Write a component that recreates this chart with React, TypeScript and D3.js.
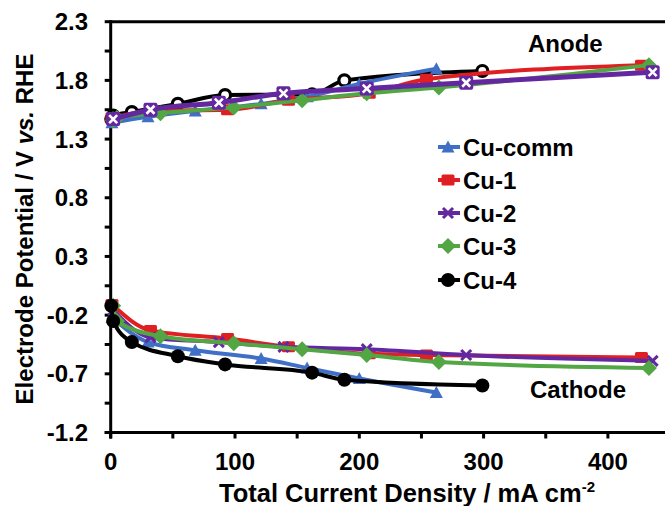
import React from "react";
import * as d3 from "d3";

// ---- data ----
const X_COMM = [1, 30, 68, 121, 158, 200, 262];
const CATH_COMM = [-0.22, -0.43, -0.5, -0.57, -0.65, -0.74, -0.86];
const AN_COMM = [1.44, 1.49, 1.54, 1.6, 1.66, 1.77, 1.9];

const X_CU1 = [1, 32, 94, 143, 208, 254, 427];
const CATH_CU1 = [-0.11, -0.33, -0.4, -0.47, -0.53, -0.54, -0.56];
const AN_CU1 = [1.48, 1.54, 1.55, 1.63, 1.69, 1.81, 1.93];

const X_CU2 = [2, 32, 87, 139, 206, 286, 436];
const CATH_CU2 = [-0.16, -0.39, -0.43, -0.47, -0.49, -0.54, -0.59];
const AN_CU2 = [1.47, 1.55, 1.61, 1.69, 1.73, 1.78, 1.87];

const X_CU3 = [2, 5, 40, 99, 154, 206, 264, 433];
const CATH_CU3 = [-0.12, -0.25, -0.38, -0.44, -0.49, -0.54, -0.6, -0.65];
const AN_CU3 = [1.46, 1.48, 1.52, 1.57, 1.63, 1.69, 1.74, 1.93];

const X_CU4 = [0.5, 2, 17, 54, 92, 162, 188, 299];
const CATH_CU4 = [-0.12, -0.25, -0.43, -0.55, -0.62, -0.69, -0.75, -0.8];
const AN_CU4 = [1.47, 1.5, 1.53, 1.6, 1.675, 1.68, 1.8, 1.88];

const SERIES_NAMES = ["Cu-comm", "Cu-1", "Cu-2", "Cu-3", "Cu-4"];
const X_TICKS = [0, 100, 200, 300, 400];
const X_MINOR = [50, 150, 250, 350, 450];
const Y_TICKS = [2.3, 1.8, 1.3, 0.8, 0.3, -0.2, -0.7, -1.2];
const Y_MINOR = [2.05, 1.55, 1.05, 0.55, 0.05, -0.45, -0.95];

const COLORS: Record<string, string> = {
  "Cu-comm": "#3f6fc6",
  "Cu-1": "#e01f23",
  "Cu-2": "#6328a0",
  "Cu-3": "#52a644",
  "Cu-4": "#000000",
};

const FONT = "'Liberation Sans', Arial, Helvetica, sans-serif";

type Pt = [number, number];

function Marker({ name, cx, cy, anode }: { name: string; cx: number; cy: number; anode?: boolean }) {
  const c = COLORS[name];
  if (name === "Cu-comm") {
    const w = 13, h = 11;
    return <path d={`M${cx},${cy - h / 2 - 1}L${cx + w / 2},${cy + h / 2}L${cx - w / 2},${cy + h / 2}Z`} fill={c} />;
  }
  if (name === "Cu-1") {
    return <rect x={cx - 6.5} y={cy - 5.5} width={13} height={11} rx={1.5} fill={c} />;
  }
  if (name === "Cu-2") {
    if (anode) {
      return (
        <g>
          <rect x={cx - 7} y={cy - 7} width={14} height={14} rx={2} fill={c} />
          <path d={`M${cx - 4},${cy - 4}L${cx + 4},${cy + 4}M${cx + 4},${cy - 4}L${cx - 4},${cy + 4}`} stroke="#fff" strokeWidth={2.6} />
        </g>
      );
    }
    return (
      <path d={`M${cx - 5},${cy - 5}L${cx + 5},${cy + 5}M${cx + 5},${cy - 5}L${cx - 5},${cy + 5}`} stroke={c} strokeWidth={3} />
    );
  }
  if (name === "Cu-3") {
    const r = 8;
    return <path d={`M${cx},${cy - r}L${cx + r},${cy}L${cx},${cy + r}L${cx - r},${cy}Z`} fill={c} />;
  }
  // Cu-4
  if (anode) return <circle cx={cx} cy={cy} r={5.5} fill="#fff" stroke={c} strokeWidth={3.2} />;
  return <circle cx={cx} cy={cy} r={7} fill={c} />;
}

export default function App() {
  const W = 665, H = 506;
  const x = d3.scaleLinear().domain([0, 400]).range([110.7, 607.9]);
  const y = d3.scaleLinear().domain([-1.2, 2.3]).range([432.5, 21.7]);
  const line = d3
    .line<Pt>()
    .x((d) => x(d[0]))
    .y((d) => y(d[1]))
    .curve(d3.curveMonotoneX);

  const xs: Record<string, number[]> = {
    "Cu-comm": X_COMM, "Cu-1": X_CU1, "Cu-2": X_CU2, "Cu-3": X_CU3, "Cu-4": X_CU4,
  };
  const cath: Record<string, number[]> = {
    "Cu-comm": CATH_COMM, "Cu-1": CATH_CU1, "Cu-2": CATH_CU2, "Cu-3": CATH_CU3, "Cu-4": CATH_CU4,
  };
  const an: Record<string, number[]> = {
    "Cu-comm": AN_COMM, "Cu-1": AN_CU1, "Cu-2": AN_CU2, "Cu-3": AN_CU3, "Cu-4": AN_CU4,
  };
  const pts = (n: string, ys: number[]): Pt[] => xs[n].map((v, i) => [v, ys[i]] as Pt);

  const cathOrder = ["Cu-comm", "Cu-1", "Cu-2", "Cu-3", "Cu-4"];
  const anOrder = ["Cu-4", "Cu-comm", "Cu-1", "Cu-3", "Cu-2"];

  const x0 = x(0), yb = y(-1.2), yt = y(2.3);

  return (
    <svg width={W} height={H} style={{ position: "absolute", left: 0, top: 0 }} fontFamily={FONT}>
      <rect width={W} height={H} fill="#fff" />
      {/* frame */}
      <line x1={x0} x2={W} y1={yt} y2={yt} stroke="#000" strokeWidth={3} />
      <line x1={x0} x2={x0} y1={yt - 1.5} y2={yb + 6} stroke="#000" strokeWidth={3} />
      <line x1={x0 - 6} x2={W} y1={yb} y2={yb} stroke="#000" strokeWidth={3} />
      {Y_TICKS.concat(Y_MINOR).map((t) => (
        <line key={"yt" + t} x1={x0 - 6} x2={x0} y1={y(t)} y2={y(t)} stroke="#000" strokeWidth={3} />
      ))}
      {X_TICKS.concat(X_MINOR).map((t) => (
        <line key={"xt" + t} x1={x(t)} x2={x(t)} y1={yb} y2={yb + 6} stroke="#000" strokeWidth={3} />
      ))}
      {Y_TICKS.map((t) => (
        <text key={"yl" + t} x={88} y={y(t) + 8.5} textAnchor="end" fontSize={24} fontWeight="bold">
          {t.toFixed(1)}
        </text>
      ))}
      {X_TICKS.map((t) => (
        <text key={"xl" + t} x={x(t)} y={470} textAnchor="middle" fontSize={24} fontWeight="bold">
          {t}
        </text>
      ))}
      <text x={407} y={502} textAnchor="middle" fontSize={25.5} fontWeight="bold">
        Total Current Density / mA cm<tspan dy={-10} fontSize={15}>-2</tspan>
      </text>
      <text transform="translate(33,229) rotate(-90)" textAnchor="middle" fontSize={24} fontWeight="bold">
        Electrode Potential / V <tspan fontStyle="italic">vs.</tspan> RHE
      </text>

      {/* cathode */}
      {cathOrder.map((n) => (
        <g key={"c" + n}>
          <path d={line(pts(n, cath[n])) || ""} fill="none" stroke={COLORS[n]} strokeWidth={4} strokeLinejoin="round" />
          {pts(n, cath[n]).map((p, i) => (
            <Marker key={i} name={n} cx={x(p[0])} cy={y(p[1])} />
          ))}
        </g>
      ))}
      {/* anode */}
      {anOrder.map((n) => (
        <g key={"a" + n}>
          <path d={line(pts(n, an[n])) || ""} fill="none" stroke={COLORS[n]} strokeWidth={n === "Cu-2" ? 5 : 4} strokeLinejoin="round" />
          {pts(n, an[n]).map((p, i) => (
            <Marker key={i} name={n} cx={x(p[0])} cy={y(p[1])} anode />
          ))}
        </g>
      ))}

      <text x={528} y={52} fontSize={24} fontWeight="bold">Anode</text>
      <text x={530} y={398} fontSize={24} fontWeight="bold">Cathode</text>

      {/* legend */}
      {SERIES_NAMES.map((n, i) => {
        const ly = [147, 180, 213, 246, 280][i];
        return (
          <g key={"lg" + n}>
            <line x1={438} x2={460} y1={ly} y2={ly} stroke={COLORS[n]} strokeWidth={4} />
            <Marker name={n} cx={448} cy={ly} />
            <text x={463} y={ly + 8.6} fontSize={24} fontWeight="bold">{n}</text>
          </g>
        );
      })}
    </svg>
  );
}
